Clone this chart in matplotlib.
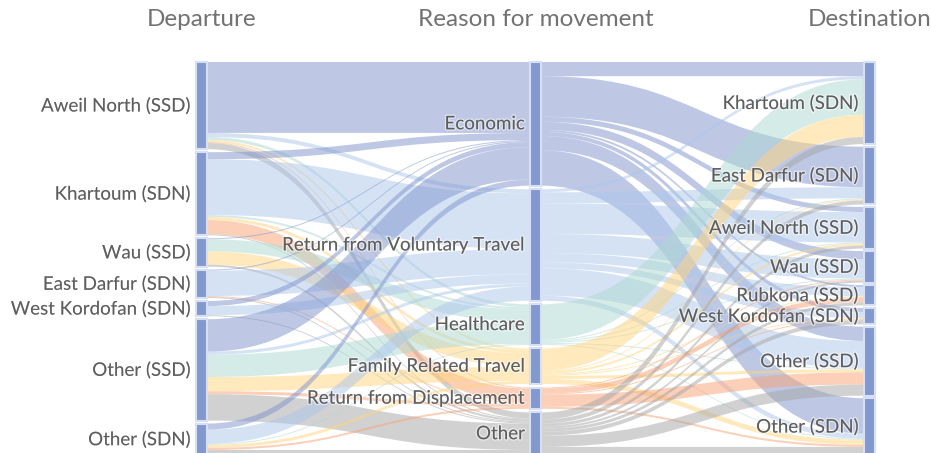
import matplotlib.pyplot as plt
import matplotlib.patheffects as pe
from matplotlib.path import Path
from matplotlib.patches import PathPatch, Rectangle
import numpy as np

plt.rcParams['font.family'] = ['Lato', 'DejaVu Sans']

departure = ["Aweil North (SSD)", "Khartoum (SDN)", "Wau (SSD)", "East Darfur (SDN)",
             "West Kordofan (SDN)", "Other (SSD)", "Other (SDN)"]
reasons = ["Economic", "Return from Voluntary Travel", "Healthcare",
           "Family Related Travel", "Return from Displacement", "Other"]
destination = ["Khartoum (SDN)", "East Darfur (SDN)", "Aweil North (SSD)", "Wau (SSD)",
               "Rubkona (SSD)", "West Kordofan (SDN)", "Other (SSD)", "Other (SDN)"]
headers = ["Departure", "Reason for movement", "Destination"]

# rows: departure, cols: reason
dep_reason = np.array([
    [70, 4, 3, 2, 1, 6],
    [7, 55, 2, 3, 14, 1],
    [1, 0, 12, 13, 0, 2],
    [1, 25, 0, 0, 1, 1],
    [5, 9, 0, 0, 0, 1],
    [32, 3, 22, 14, 3, 26],
    [6, 14, 1, 3, 2, 5],
])

# rows: reason, cols: destination
reason_dest = np.array([
    [14, 40, 5, 8, 2, 4, 14, 35],
    [3, 11, 30, 19, 9, 6, 27, 5],
    [35, 1, 1, 1, 0, 0, 1, 1],
    [22, 1, 2, 0, 1, 1, 3, 5],
    [0, 0, 0, 1, 5, 1, 12, 2],
    [7, 4, 3, 2, 3, 4, 11, 8],
])

reason_colors = ["#7f93cd", "#adc7eb", "#add9d1", "#ffd57d", "#f9a173", "#a5a5a5"]

W, H = 931, 453
top, bottom = 62, 455
node_w = 11
col_x = [196, 530, 864]


def stack(values, scale):
    gap = (bottom - top - scale * sum(values)) / (len(values) - 1)
    pos, y = [], top
    for v in values:
        pos.append((y, y + v * scale))
        y += v * scale + gap
    return pos


def band(ax, x0, a0, a1, x1, b0, b1, color):
    xm = (x0 + x1) / 2
    verts = [(x0, a0), (xm, a0), (xm, b0), (x1, b0),
             (x1, b1), (xm, b1), (xm, a1), (x0, a1), (x0, a0)]
    codes = [Path.MOVETO, Path.CURVE4, Path.CURVE4, Path.CURVE4,
             Path.LINETO, Path.CURVE4, Path.CURVE4, Path.CURVE4, Path.CLOSEPOLY]
    ax.add_patch(PathPatch(Path(verts, codes), facecolor=color, edgecolor='none', alpha=0.5))


def draw_links(ax, M, src_pos, tgt_pos, x0, x1, color_by_row):
    # at the target links are ordered by source, at the source by target
    tgt_start = {}
    for j in range(M.shape[1]):
        y = tgt_pos[j][0]
        for i in range(M.shape[0]):
            tgt_start[(i, j)] = y
            y += M[i, j] * scale
    for i in range(M.shape[0]):
        y = src_pos[i][0]
        for j in range(M.shape[1]):
            h = M[i, j] * scale
            if h > 0:
                c = reason_colors[i] if color_by_row else reason_colors[j]
                band(ax, x0, y, y + h, x1, tgt_start[(i, j)], tgt_start[(i, j)] + h, c)
            y += h


fig = plt.figure(figsize=(W / 100, H / 100), dpi=100)
ax = fig.add_axes([0, 0, 1, 1])
ax.set_xlim(0, W)
ax.set_ylim(H, 0)
ax.axis('off')

total = dep_reason.sum()
scale = (bottom - top - 3 * 6) / total

dep_pos = stack(dep_reason.sum(axis=1), scale)
rea_pos = stack(dep_reason.sum(axis=0), scale)
des_pos = stack(reason_dest.sum(axis=0), scale)

draw_links(ax, dep_reason, dep_pos, rea_pos, col_x[0] + node_w, col_x[1], False)
draw_links(ax, reason_dest, rea_pos, des_pos, col_x[1] + node_w, col_x[2], True)

halo = [pe.withStroke(linewidth=2, foreground=(1, 1, 1, 0.5))]
for x, labels, pos in zip(col_x, [departure, reasons, destination], [dep_pos, rea_pos, des_pos]):
    for lab, (y0, y1) in zip(labels, pos):
        ax.add_patch(Rectangle((x, y0), node_w, y1 - y0, facecolor="#8299d0",
                               edgecolor="#d6dff4", linewidth=1.5))
        ax.text(x - 5, (y0 + y1) / 2, lab, ha='right', va='center', fontsize=13.5,
                color="#5e5e5e", path_effects=halo)

for x, h in zip(col_x, headers):
    ax.text(x + node_w / 2, 20, h, ha='center', va='center', fontsize=17.5,
            color="#727272")

fig.savefig("out.png", dpi=100)
